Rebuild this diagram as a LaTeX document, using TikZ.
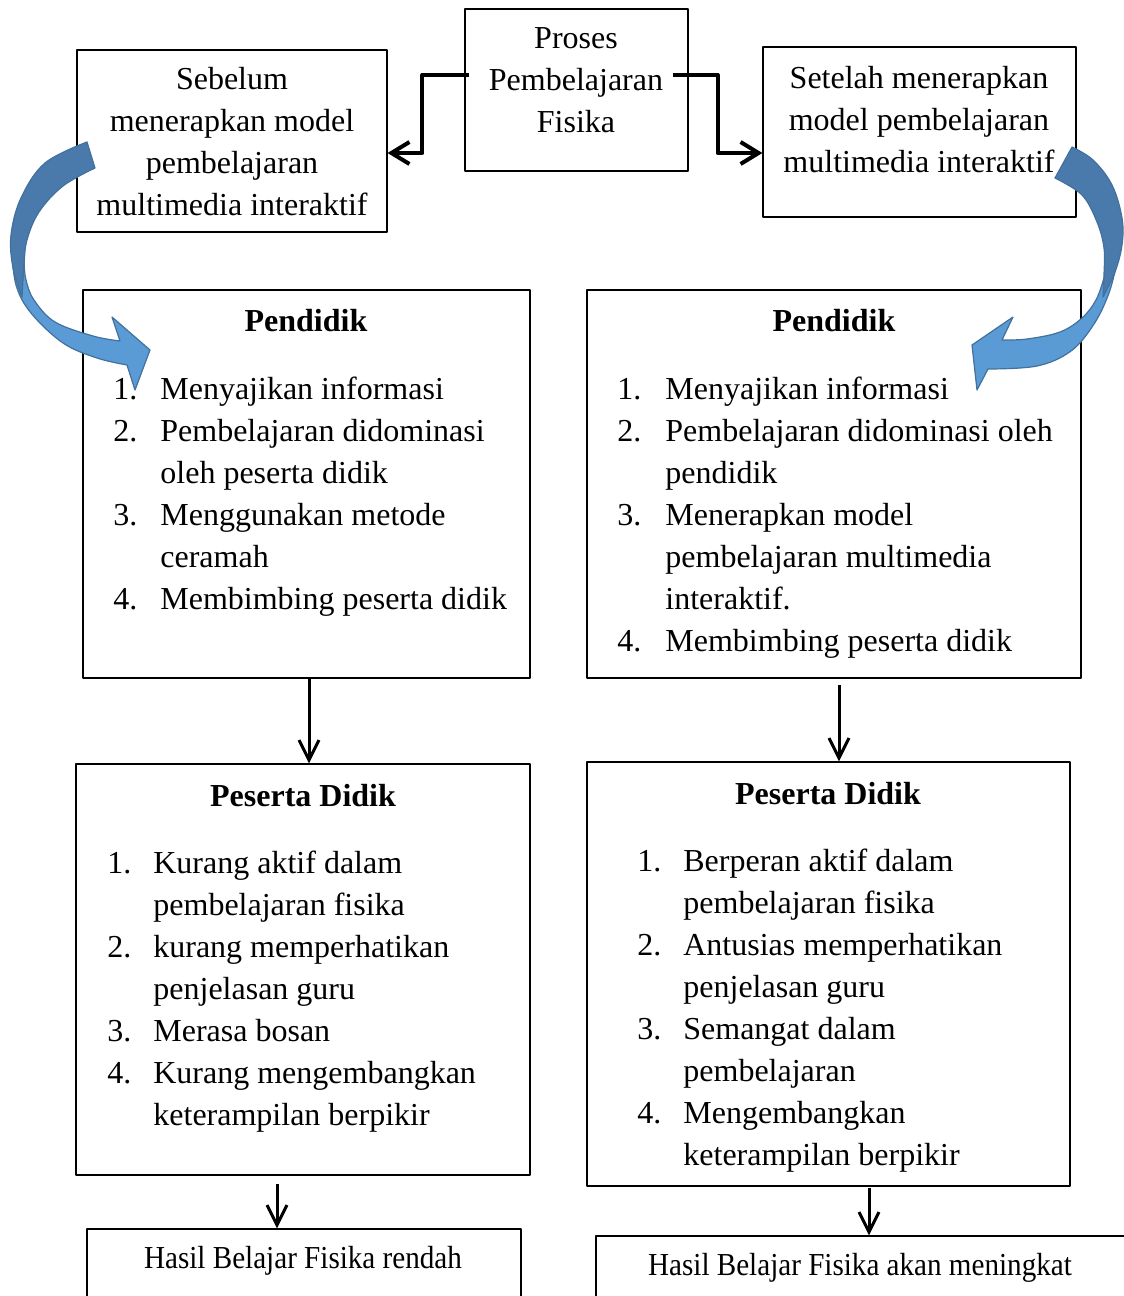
\documentclass[tikz,border=0pt]{standalone}
\usepackage{fontspec}
\setmainfont{Liberation Serif}
\usetikzlibrary{arrows.meta}
\definecolor{birutua}{HTML}{41719C}
\definecolor{birugelap}{HTML}{4A79AB}
\definecolor{birumuda}{HTML}{5B9BD5}
\tikzset{
	kotak/.style={draw=black, line width=0.6pt, inner sep=0pt},
	teks/.style={inner sep=0pt, anchor=base},
	daftar/.style={inner sep=0pt, anchor=base west},
	siku/.style={line width=2pt, -{Straight Barb[length=9pt, width=11pt]}},
	turun/.style={line width=1.5pt, -{Straight Barb[length=10pt, width=10pt]}},
	lengkung/.style={draw=birutua, line width=0.6pt, line join=round}
}
\begin{document}
\begin{tikzpicture}[x=0.5pt, y=-0.5pt, font=\fontsize{16}{21}\selectfont, line join=round]
	\useasboundingbox (0,0) rectangle (1124,1296);
	\clip (0,0) rectangle (1124,1296);
	% kotak atas
	\node[kotak, minimum width=155pt, minimum height=91pt] (sebelum) at (232,141) {};
	\node[kotak, minimum width=111.5pt, minimum height=81pt] (proses) at (576.5,90) {};
	\node[kotak, minimum width=156.5pt, minimum height=85pt] (setelah) at (919.5,132) {};
	\node[teks] (sebelumT) at (232,89) {\begin{tabular}[t]{@{}c@{}}Sebelum\\menerapkan model\\pembelajaran\\multimedia interaktif\end{tabular}};
	\node[teks] (prosesT) at (576,48) {\begin{tabular}[t]{@{}c@{}}Proses\\Pembelajaran\\Fisika\end{tabular}};
	\node[teks] (setelahT) at (919,88) {\begin{tabular}[t]{@{}c@{}}Setelah menerapkan\\model pembelajaran\\multimedia interaktif\end{tabular}};
	% pendidik
	\node[kotak, minimum width=223.5pt, minimum height=194pt] (pendL) at (306.5,484) {};
	\node[kotak, minimum width=247pt, minimum height=194pt] (pendR) at (834,484) {};
	\node[teks] (pendLT) at (306,331) {\textbf{Pendidik}};
	\node[teks] (pendRT) at (834,331) {\textbf{Pendidik}};
	\node[daftar] (pendLD) at (113,399) {\begin{tabular}[t]{@{}p{23.5pt}@{}l@{}}
		1. & Menyajikan informasi\\
		2. & Pembelajaran didominasi\\
		   & oleh peserta didik\\
		3. & Menggunakan metode\\
		   & ceramah\\
		4. & Membimbing peserta didik
	\end{tabular}};
	\node[daftar] (pendRD) at (617,399) {\begin{tabular}[t]{@{}p{24pt}@{}l@{}}
		1. & Menyajikan informasi\\
		2. & Pembelajaran didominasi oleh\\
		   & pendidik\\
		3. & Menerapkan model\\
		   & pembelajaran multimedia\\
		   & interaktif.\\
		4. & Membimbing peserta didik
	\end{tabular}};
	% peserta didik
	\node[kotak, minimum width=227pt, minimum height=205.5pt] (pesL) at (303,969.5) {};
	\node[kotak, minimum width=241.5pt, minimum height=212pt] (pesR) at (828.5,974) {};
	\node[teks] (pesLT) at (303,806) {\textbf{Peserta Didik}};
	\node[teks] (pesRT) at (828,804) {\textbf{Peserta Didik}};
	\node[daftar] (pesLD) at (107,873) {\begin{tabular}[t]{@{}p{23pt}@{}l@{}}
		1. & Kurang aktif dalam\\
		   & pembelajaran fisika\\
		2. & kurang memperhatikan\\
		   & penjelasan guru\\
		3. & Merasa bosan\\
		4. & Kurang mengembangkan\\
		   & keterampilan berpikir
	\end{tabular}};
	\node[daftar] (pesRD) at (637,871) {\begin{tabular}[t]{@{}p{23pt}@{}l@{}}
		1. & Berperan aktif dalam\\
		   & pembelajaran fisika\\
		2. & Antusias memperhatikan\\
		   & penjelasan guru\\
		3. & Semangat dalam\\
		   & pembelajaran\\
		4. & Mengembangkan\\
		   & keterampilan berpikir
	\end{tabular}};
	% hasil belajar
	\node[kotak, minimum width=217pt, minimum height=45pt] (hasilL) at (304,1274) {};
	\node[kotak, minimum width=277pt, minimum height=45pt] (hasilR) at (873,1281) {};
	\node[teks] (hasilLT) at (303,1268) {\scalebox{0.91}[1]{Hasil Belajar Fisika rendah}};
	\node[teks] (hasilRT) at (860,1275) {\scalebox{0.91}[1]{Hasil Belajar Fisika akan meningkat}};
	% penghubung
	\draw[siku] ([xshift=2.5pt, yshift=7.5pt]proses.west) -- ++(-47,0) |- ([yshift=-6pt]sebelum.east);
	\draw[siku] ([xshift=-8pt, yshift=7.5pt]proses.east) -- ++(45,0) |- ([yshift=-10.5pt]setelah.west);
	\draw[turun] ([xshift=1.25pt]pendL.south) -- ([xshift=1.25pt]pendL.south |- pesL.north);
	\draw[turun] ([xshift=2.5pt, yshift=-3pt]pendR.south) -- ([xshift=2.5pt]pendR.south |- pesR.north);
	\draw[turun] ([xshift=-13pt, yshift=-4pt]pesL.south) -- ([xshift=-13pt]pesL.south |- hasilL.north);
	\draw[turun] ([xshift=20.25pt, yshift=-0.5pt]pesR.south) -- ([xshift=20.25pt]pesR.south |- hasilR.north);
	% panah lengkung kiri
	\filldraw[lengkung, fill=birumuda] plot[smooth, tension=0.6] coordinates {(12,250) (16,285) (31,313) (63,343) (97,358) (127,365)}
		-- (135,390) -- (150,350) -- (112,317) -- (120,341)
		-- plot[smooth, tension=0.6] coordinates {(120,341) (93,336) (55,322) (34,300) (26,280) (24,262)} -- cycle;
	\filldraw[lengkung, fill=birugelap] plot[smooth, tension=0.6] coordinates {(87,142) (45,163) (21,198) (11,235) (13,268) (22,297)}
		-- plot[smooth, tension=0.6] coordinates {(22,297) (24,265) (27,240) (39,212) (63,186) (95,168)} -- cycle;
	% panah lengkung kanan
	\filldraw[lengkung, fill=birumuda] plot[smooth, tension=0.6] coordinates {(1117,262) (1109,293) (1094,324) (1071,351) (1037,366) (988,369)}
		-- (977,390) -- (972,345) -- (1013,317) -- (1002,340)
		-- plot[smooth, tension=0.6] coordinates {(1002,340) (1027,339) (1060,332) (1082,318) (1096,300) (1104,278)} -- cycle;
	\filldraw[lengkung, fill=birugelap] plot[smooth, tension=0.6] coordinates {(1072,147) (1093,160) (1112,185) (1122,218) (1122,245) (1115,272) (1103,297)}
		-- plot[smooth, tension=0.6] coordinates {(1103,297) (1104,275) (1104,248) (1097,222) (1082,195) (1055,178)} -- cycle;
\end{tikzpicture}
\end{document}
